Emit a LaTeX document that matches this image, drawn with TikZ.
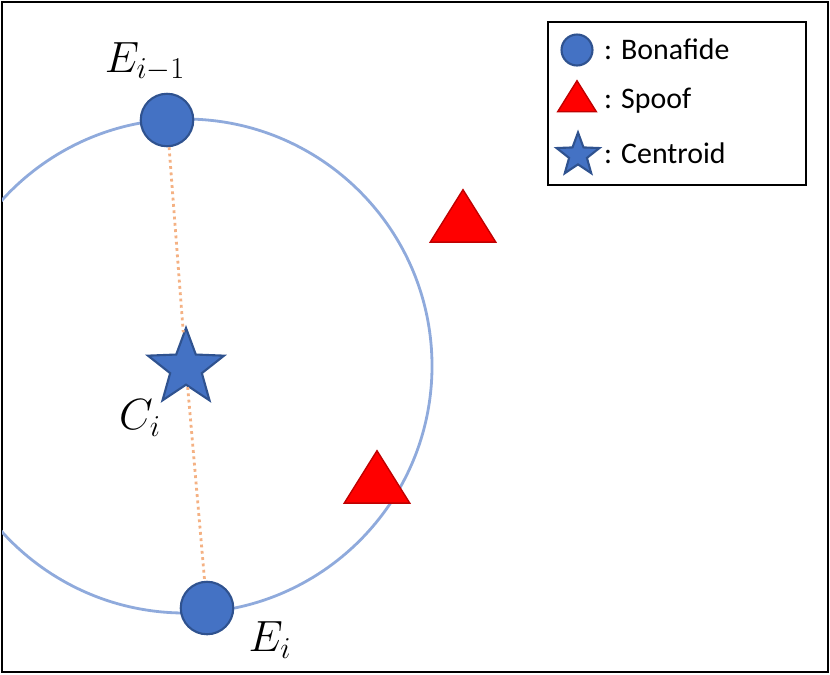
\documentclass[tikz,border=0pt]{standalone}
\usepackage{fontspec}
\setsansfont{Carlito}
\usetikzlibrary{shapes.geometric}
\definecolor{bonablue}{HTML}{4472C4}
\definecolor{bonaedge}{HTML}{2F528F}
\definecolor{ringblue}{HTML}{8FAADC}
\definecolor{linkorange}{HTML}{F4B183}
\definecolor{spoofred}{HTML}{FF0000}
\definecolor{spoofedge}{HTML}{C00000}
\begin{document}
\begin{tikzpicture}[x=0.02cm, y=-0.02cm,
  bonafide/.style={circle, draw=bonaedge, fill=bonablue, line width=1.2pt, minimum size=1.05cm, inner sep=0pt},
  spoof/.style={isosceles triangle, isosceles triangle apex angle=64, shape border rotate=90, draw=spoofedge, fill=spoofred, line width=0.8pt, minimum height=1.05cm, inner sep=0pt},
  centroid/.style={star, star points=5, star point ratio=2.4, draw=bonaedge, fill=bonablue, line width=1.2pt, minimum size=1.6cm, inner sep=0pt},
  mathlabel/.style={font=\fontsize{24}{28}\selectfont},
  legendtext/.style={font=\sffamily\fontsize{17}{20}\selectfont, anchor=west}
]
    % Frame
    \useasboundingbox (0,0) rectangle (830,674);
    \draw[line width=1.6pt] (2,2) rectangle (828,672);

    % Ring
    \begin{scope}
      \clip (2,2) rectangle (828,672);
      \draw[ringblue, line width=1.6pt] (185,366) circle (247);
    \end{scope}

    % Points
    \node (eprev) at (167,120) [bonafide] {};
    \node (ecur) at (207,608) [bonafide] {};
    \node (cent) at (186,368) [centroid] {};
    \node (spooftop) at (463,224) [spoof] {};
    \node (spoofmid) at (377,485) [spoof] {};

    % Links
    \draw[linkorange, line width=1.6pt, dotted] (eprev) -- (cent);
    \draw[linkorange, line width=1.6pt, dotted] (cent) -- (ecur);

    % Labels
    \node (leprev) at (145,62) [mathlabel] {$E_{i-1}$};
    \node (lcent) at (140,418) [mathlabel] {$C_i$};
    \node (lecur) at (270,640) [mathlabel] {$E_i$};

    % Legend
    \draw[line width=1pt] (548,22) rectangle (806,185);
    \node (kbona) at (577,50) [bonafide, minimum size=0.62cm] {};
    \node (kspoof) at (577,101) [spoof, minimum height=0.62cm] {};
    \node (kcent) at (578,155) [centroid, minimum size=0.9cm] {};
    \node (tbona) at (598,49) [legendtext] {: Bonafide};
    \node (tspoof) at (598,101) [legendtext] {: Spoof};
    \node (tcent) at (598,153) [legendtext] {: Centroid};
\end{tikzpicture}
\end{document}
